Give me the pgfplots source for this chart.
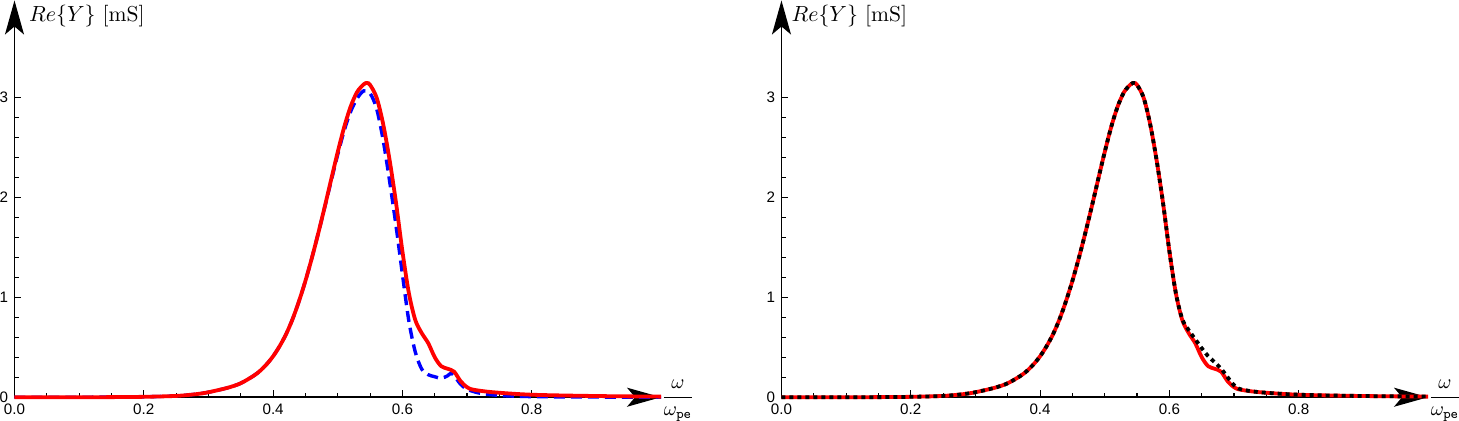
\documentclass[border=0pt]{standalone}
\usepackage{amsmath}
\usepackage{fontspec}
\newfontfamily\tickfont{Liberation Sans}
\usepackage{pgfplots}
\usepackage{pgfplotstable}
\pgfplotsset{compat=1.18}
\usetikzlibrary{arrows.meta}

% Re{Y}, full model (red, solid)
\pgfplotstableread{
x y
0.00 0.000
0.10 0.000
0.15 0.001
0.20 0.004
0.25 0.013
0.28 0.030
0.30 0.050
0.33 0.095
0.35 0.140
0.37 0.215
0.38 0.265
0.39 0.330
0.40 0.410
0.41 0.510
0.42 0.630
0.43 0.780
0.44 0.960
0.45 1.165
0.46 1.395
0.47 1.645
0.48 1.910
0.49 2.185
0.50 2.455
0.51 2.705
0.52 2.910
0.53 3.055
0.54 3.130
0.545 3.145
0.55 3.125
0.56 3.000
0.57 2.740
0.58 2.380
0.59 1.950
0.60 1.460
0.61 1.040
0.62 0.770
0.63 0.640
0.64 0.540
0.65 0.400
0.66 0.310
0.67 0.285
0.68 0.255
0.69 0.160
0.70 0.100
0.71 0.075
0.74 0.050
0.80 0.025
0.90 0.012
1.00 0.006
}\redtab

% left panel, dashed blue
\pgfplotstableread{
x y
0.00 0.000
0.10 0.000
0.15 0.001
0.20 0.004
0.25 0.013
0.28 0.030
0.30 0.050
0.33 0.095
0.35 0.140
0.37 0.215
0.38 0.265
0.39 0.330
0.40 0.410
0.41 0.510
0.42 0.630
0.43 0.780
0.44 0.960
0.45 1.165
0.46 1.395
0.47 1.645
0.48 1.905
0.49 2.170
0.50 2.430
0.51 2.670
0.52 2.860
0.53 2.990
0.54 3.065
0.55 3.040
0.56 2.890
0.57 2.580
0.58 2.170
0.59 1.720
0.60 1.230
0.61 0.760
0.62 0.450
0.63 0.280
0.64 0.225
0.65 0.205
0.66 0.190
0.67 0.215
0.675 0.240
0.68 0.215
0.69 0.130
0.70 0.080
0.72 0.040
0.75 0.018
0.80 0.006
0.90 0.002
1.00 0.000
}\bluetab

% right panel, dotted black
\pgfplotstableread{
x y
0.00 0.000
0.10 0.000
0.15 0.001
0.20 0.004
0.25 0.013
0.28 0.030
0.30 0.050
0.33 0.095
0.35 0.140
0.37 0.215
0.38 0.265
0.39 0.330
0.40 0.410
0.41 0.510
0.42 0.630
0.43 0.780
0.44 0.960
0.45 1.165
0.46 1.395
0.47 1.645
0.48 1.910
0.49 2.185
0.50 2.455
0.51 2.705
0.52 2.910
0.53 3.055
0.54 3.130
0.545 3.145
0.55 3.125
0.56 3.000
0.57 2.740
0.58 2.380
0.59 1.950
0.60 1.460
0.61 1.040
0.62 0.780
0.63 0.670
0.64 0.580
0.65 0.490
0.66 0.410
0.67 0.350
0.68 0.285
0.69 0.200
0.70 0.120
0.71 0.080
0.74 0.050
0.80 0.025
0.90 0.012
1.00 0.006
}\blacktab

\pgfplotsset{
  panel/.style={
    x=323.5pt, y=50pt,
    xmin=0, xmax=1.0, ymin=0, ymax=3.97,
    axis lines=middle,
    axis line style={line width=0.75pt, -{Stealth[length=17pt,width=9.5pt,inset=4pt]}},
    hide obscured x ticks=false, hide obscured y ticks=false,
    clip=false,
    xtick={0,0.2,0.4,0.6,0.8},
    ytick={0,1,2,3},
    minor x tick num=3,
    minor y tick num=4,
    tick align=inside,
    major tick length=3.5pt,
    minor tick length=2.3pt,
    tick style={black, line width=0.6pt},
    /pgf/number format/assume math mode=true,
    tick label style={font=\tickfont\fontsize{7.6}{9}\selectfont},
    xticklabel style={/pgf/number format/.cd, fixed, fixed zerofill, precision=1},
    yticklabel style={xshift=0.3pt},
  },
}

\begin{document}
\begin{tikzpicture}
\begin{axis}[panel, at={(0,0)}, anchor=origin]
  \addplot[blue, line width=1.7pt, dash pattern=on 5.5pt off 3pt, smooth, tension=0.5] table {\bluetab};
  \addplot[red, line width=1.9pt, smooth, tension=0.5] table {\redtab};
  \node[anchor=west, inner sep=0, font=\fontsize{10.8}{13}\selectfont] at (axis cs:0.022,3.815) {$Re\{Y\}$ [mS]};
  \node[anchor=base west, inner sep=0, yshift=-2.5pt] at (axis cs:1.0,0) {$\dfrac{\omega}{\omega_{\mathtt{pe}}}$};
\end{axis}
\begin{axis}[panel, at={(383.75pt,0)}, anchor=origin]
  \addplot[red, line width=1.9pt, smooth, tension=0.5] table {\redtab};
  \addplot[black, line width=1.9pt, dash pattern=on 2pt off 2pt, smooth, tension=0.5] table {\blacktab};
  \node[anchor=west, inner sep=0, font=\fontsize{10.8}{13}\selectfont] at (axis cs:0.015,3.815) {$Re\{Y\}$ [mS]};
  \node[anchor=base west, inner sep=0, yshift=-2.5pt] at (axis cs:1.0,0) {$\dfrac{\omega}{\omega_{\mathtt{pe}}}$};
\end{axis}
\pgfresetboundingbox
\useasboundingbox (-7.25pt,-11.75pt) rectangle (722.75pt,198.75pt);
\end{tikzpicture}
\end{document}
